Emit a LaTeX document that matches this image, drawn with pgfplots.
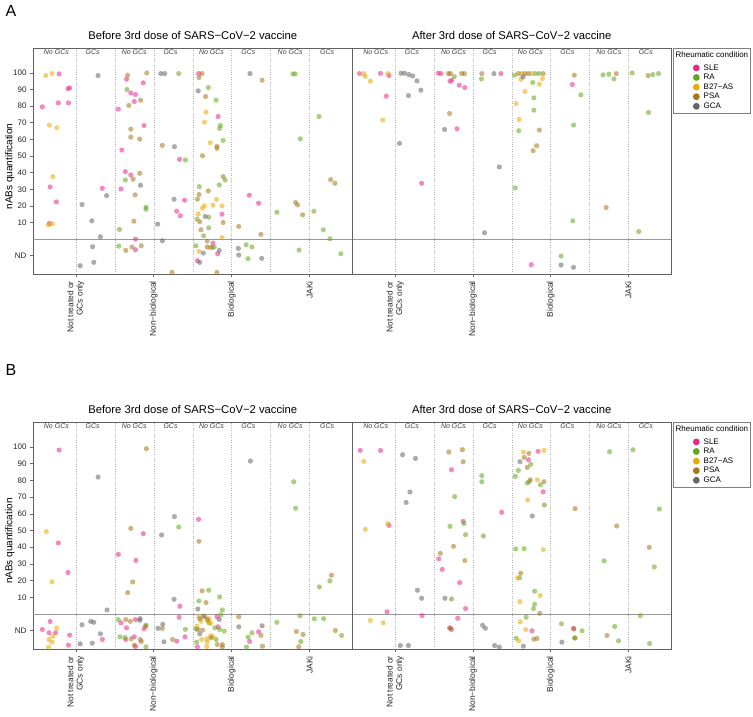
\documentclass[border=0pt]{standalone}
\usepackage{fontspec}
\setmainfont{Liberation Sans}
\usepackage{pgfplots}
\pgfplotsset{compat=1.18}
\definecolor{cSLE}{HTML}{E7298A}
\definecolor{cRA}{HTML}{66A61E}
\definecolor{cB27}{HTML}{E6AB02}
\definecolor{cPSA}{HTML}{A6761D}
\definecolor{cGCA}{HTML}{666666}
\tikzset{strip/.style={font=\fontsize{7}{8}\selectfont\itshape, text=black!75, anchor=center}}
\pgfplotsset{
  pts/.style={only marks, mark=*, mark size=2.6pt, color=#1, draw opacity=0,
    mark options={draw=none, draw opacity=0, line width=0pt, fill=#1, fill opacity=0.55}},
  lgd/.style={legend image code/.code={\path[draw=none] (0pt,0pt) -- (24pt,0pt); \fill[#1, draw=none] (21pt,0pt) circle[radius=3.4pt];}},
  facet/.style={
    scale only axis, anchor=north west,
    xmin=-0.1, xmax=8.1, ymin=-21, ymax=115,
    axis line style={draw=black!62, line width=0.9pt},
    xtick={1,3,5,7},
    xticklabels={{Not treated or\\GCs only},Non−biological,Biological,JAKi},
    xticklabel style={rotate=90, anchor=east, align=right, font=\fontsize{8.4}{9.4}\selectfont, text=black!85, inner sep=4pt},
    yticklabel style={font=\fontsize{8}{9}\selectfont, text=black!85},
    minor xtick={2,4,6},
    xmajorgrids, xminorgrids,
    major grid style={dotted, black!30, line width=0.5pt},
    minor grid style={dotted, black!30, line width=0.5pt},
    minor tick length=0pt,
    tick align=outside, major tick length=3pt,
    xtick pos=left, ytick pos=left,
    tick style={black!60, line width=0.6pt},
    title style={font=\fontsize{11.25}{13}\selectfont, anchor=base, at={(0.5,1)}, yshift=3pt},
  },
  leftfacet/.style={facet, width=319.5pt,
    ytick={-10,10,20,30,40,50,60,70,80,90,100},
    yticklabels={ND,10,20,30,40,50,60,70,80,90,100},
    ylabel={nABs quantification},
    ylabel style={font=\fontsize{8}{9}\selectfont},
    every axis y label/.style={at={(axis description cs:-0.073,0.475)}, rotate=90, anchor=center},
    title={Before 3rd dose of SARS−CoV−2 vaccine}},
  rightfacet/.style={facet, width=318.5pt, ytick=\empty,
    title={After 3rd dose of SARS−CoV−2 vaccine},
    legend style={at={(1.006,1)}, anchor=north west, draw=black!50, line width=0.8pt,
      font=\fontsize{8}{9.6}\selectfont, inner xsep=2pt, inner ysep=2pt, row sep=0pt,
      nodes={text height=6pt, text depth=1.6pt, inner ysep=1pt, inner xsep=0pt},
      /tikz/every odd column/.append style={column sep=4pt}},
    legend cell align=left},
}
\newcommand{\facetdeco}{%
  \draw[black!40, line width=0.6pt] (axis cs:-0.1,0) -- (axis cs:8.1,0);
  \node[strip] at (axis cs:0.5,112.4) {No GCs};
  \node[strip] at (axis cs:1.43,112.4) {GCs};
  \node[strip] at (axis cs:2.5,112.4) {No GCs};
  \node[strip] at (axis cs:3.43,112.4) {GCs};
  \node[strip] at (axis cs:4.48,112.4) {No GCs};
  \node[strip] at (axis cs:5.43,112.4) {GCs};
  \node[strip] at (axis cs:6.5,112.4) {No GCs};
  \node[strip] at (axis cs:7.45,112.4) {GCs};
}
\newcommand{\legendbits}{%
  \addlegendimage{empty legend}
  \addlegendentry[text depth=4.7pt]{\hspace*{-28pt}Rheumatic condition}
  \addlegendimage{lgd=cSLE}\addlegendentry{SLE}
  \addlegendimage{lgd=cRA}\addlegendentry{RA}
  \addlegendimage{lgd=cB27}\addlegendentry{B27−AS}
  \addlegendimage{lgd=cPSA}\addlegendentry{PSA}
  \addlegendimage{lgd=cGCA}\addlegendentry{GCA}
}
\begin{document}
\begin{tikzpicture}
\useasboundingbox (0,0) rectangle (753pt,-717pt);
\node[anchor=base west, font=\fontsize{16}{16}\selectfont] at (2pt,-17pt) {A};
\node[anchor=base west, font=\fontsize{16}{16}\selectfont] at (2pt,-375.5pt) {B};

% ---------------- Panel A, before ----------------
\begin{axis}[leftfacet, at={(33pt,-48pt)}, height=226pt]
\facetdeco
\addplot[pts=cSLE, forget plot] coordinates {
(0.57,99.4) (0.80,90.5) (0.84,91) (0.14,79.6) (0.55,82) (0.81,82) (0.34,31.4) (0.50,22.4) (0.32,9.4)
(1.68,30.6)
(2.30,96.2) (2.73,94) (2.41,88) (2.53,87) (2.50,82.8) (2.09,78.2) (2.75,68.4) (2.18,53.6) (2.27,40.6) (2.41,38.6) (2.16,30.2) (2.53,0) (2.53,-6.4)
(3.66,48) (3.79,23.4) (3.59,16.8) (3.68,14)
(4.15,99.6) (4.65,73.8) (4.75,15) (4.52,-2.4) (4.64,-8.8) (4.12,-13)
(5.45,26.4) (5.69,21.6)
};
\addplot[pts=cRA, forget plot] coordinates {
(2.31,90) (2.27,35.6) (2.80,19.2) (2.80,18) (2.12,5.8) (2.10,-4.2)
(3.64,99.6) (3.81,47.6)
(4.40,91.2) (4.60,83.6) (4.71,68.4) (4.69,66.6) (4.78,59.4) (4.83,35.6) (4.68,32.6) (4.17,31.6) (4.41,13.2) (4.11,12) (4.41,6.8) (4.28,2) (4.08,-4) (4.55,-4.8)
(5.37,-3.4) (5.52,-4.8) (5.42,-11.8)
(6.57,99.4) (6.63,99.4) (6.76,60.3) (6.16,16.2) (6.73,-6.6)
(7.24,73.8) (7.11,16.8) (7.35,5.6) (7.52,0.2) (7.80,-8.8)
};
\addplot[pts=cB27, forget plot] coordinates {
(0.23,98.4) (0.39,99.6) (0.32,68.6) (0.51,67) (0.41,37.6) (0.30,8.6) (0.40,9.2)
(4.34,76.4) (4.30,70.4) (4.45,58) (4.61,24) (4.30,20) (4.25,18.6) (4.52,20.4) (4.75,20) (4.14,15) (4.75,1) (4.44,-5) (4.16,-7.4)
};
\addplot[pts=cPSA, forget plot] coordinates {
(2.33,98.6) (2.82,100) (2.66,83.6) (2.36,80.4) (2.41,66.2) (2.41,61.4) (2.64,60.2) (2.64,39.6) (2.47,36) (2.52,26.6) (2.49,10.8) (2.28,-6.8) (2.44,-4.8) (2.68,-4)
(3.22,56.4) (3.47,-20)
(4.24,99.6) (4.16,97.2) (4.33,85.8) (4.62,55.8) (4.62,54.6) (4.25,50.2) (4.78,37.6) (4.40,29) (4.16,26.8) (4.12,24) (4.18,10.4) (4.78,10) (4.21,5.6) (4.37,-1.2) (4.37,-4.8) (4.49,-5) (4.62,-20)
(5.78,95.6) (5.18,7.6) (5.75,2.8)
(6.64,22) (6.69,20.6) (6.82,14.6)
(7.54,35.8) (7.65,33.6)
};
\addplot[pts=cGCA, forget plot] coordinates {
(1.57,98.4) (1.79,26.2) (1.16,20.8) (1.41,11) (1.63,1.4) (1.43,-4.6) (1.11,-16) (1.46,-14)
(2.66,32.4)
(3.18,99.6) (3.28,99.6) (3.53,55.6) (3.52,24) (3.10,9) (3.22,-1)
(4.14,89.2) (4.32,13.6) (4.68,-6.8) (4.27,-8.4) (4.18,-14)
(5.47,99.6) (5.17,-5.6) (5.18,-9.6) (5.77,-11.6)
};
\end{axis}

% ---------------- Panel A, after ----------------
\begin{axis}[rightfacet, at={(352.5pt,-48pt)}, height=226pt]
\legendbits
\facetdeco
\addplot[pts=cSLE, forget plot] coordinates {
(0.08,99.6) (0.62,99.7) (0.84,98.4) (0.77,86)
(1.68,33.6)
(2.11,99.8) (2.18,99.6) (2.46,95.6) (2.41,95) (2.65,92.6) (2.79,91.2) (2.59,66.4)
(3.72,99.6)
(4.50,-15.4)
(5.56,93)
};
\addplot[pts=cRA, forget plot] coordinates {
(2.52,97.8)
(3.22,96.4)
(4.07,98.6) (4.60,99.6) (4.70,99.6) (4.54,94.2) (4.57,85) (4.57,77.6) (4.18,65.2) (4.09,30.8)
(5.78,86.8) (5.59,68.6) (5.57,11) (5.27,-10.2)
(6.35,98.8) (6.50,99.2) (6.63,96.4)
(7.10,100) (7.63,99) (7.78,99.6) (7.52,76.2) (7.27,4.6)
};
\addplot[pts=cB27, forget plot] coordinates {
(0.19,99.6) (0.23,98) (0.36,95) (0.81,99.6) (0.68,71.6)
(4.26,99.6) (4.51,99.6) (4.24,96.2) (4.79,96.6) (4.71,93.2) (4.34,88.8) (4.11,81.6) (4.19,72)
};
\addplot[pts=cPSA, forget plot] coordinates {
(2.37,99.6) (2.42,99.6) (2.71,99.6) (2.78,99.6) (2.40,75.6)
(3.23,99.6)
(4.17,99.6) (4.34,99.6) (4.43,99.6) (4.81,99.6) (4.71,65.6) (4.64,56.2) (4.55,53.2)
(5.61,98.6)
(6.69,99.6) (6.43,19)
(7.51,98.4)
};
\addplot[pts=cGCA, forget plot] coordinates {
(1.15,99.8) (1.24,99.8) (1.35,99) (1.45,98.2) (1.56,95.2) (1.66,89.6) (1.34,86.4) (1.11,57.6)
(2.27,66)
(3.54,99.6) (3.68,43.4) (3.30,3.8)
(4.29,97.6)
(5.27,-15.6) (5.59,-17)
};
\end{axis}

% ---------------- Panel B, before ----------------
\begin{axis}[leftfacet, at={(33pt,-422pt)}, height=227pt]
\facetdeco
\addplot[pts=cSLE, forget plot] coordinates {
(0.57,98.2) (0.55,42.5) (0.80,24.8) (0.34,-4.5) (0.14,-9.3) (0.31,-11.3) (0.48,-11.3) (0.84,-12.7) (0.81,-18.7)
(1.68,-15.3)
(2.73,48.1) (2.09,35.7) (2.54,32.1) (2.16,-5.3) (2.53,-3.4) (2.30,-8.3) (2.75,-8.9) (2.28,-15.3) (2.50,-13.7) (2.53,-19.5)
(3.67,4.6) (3.65,-2) (3.80,-13.7) (3.59,-16.3)
(4.15,56.7) (4.62,-1.7) (4.65,-7.7) (4.12,-19.7)
(5.69,-10.7) (5.46,-16.5)
};
\addplot[pts=cRA, forget plot] coordinates {
(2.09,-3.4) (2.80,-6.7) (2.13,-13.7) (2.26,-14.1) (2.80,-19.7)
(3.64,52.1) (3.81,-9.2)
(4.41,14.2) (4.16,7.8) (4.69,10.2) (4.76,2.4) (4.72,-0.5) (4.42,-5.3) (4.57,-8.3) (4.08,-8.9) (4.81,-10.3) (4.69,-9.3) (4.60,-15.3) (4.10,-16.9)
(5.52,-11.3) (5.42,-13.9) (5.38,-19.9)
(6.59,79.2) (6.64,63.3) (6.16,-5) (6.75,-1.1) (6.77,-16.5)
(7.25,16.2) (7.52,19.8) (7.12,-2.9) (7.36,-2.8) (7.82,-12.9)
};
\addplot[pts=cB27, forget plot] coordinates {
(0.24,49.3) (0.39,19.2) (0.51,-8.5) (0.31,-15.3) (0.41,-13.3) (0.39,-16.9) (0.30,-19.9)
(4.16,-1.7) (4.32,-1.7) (4.42,-2.9) (4.21,-4.4) (4.40,-4.4) (4.46,-5.7) (4.11,-7.3) (4.46,-12.9) (4.52,-13.7) (4.23,-15.3) (4.36,-14.9) (4.37,-16.7) (4.36,-19.5)
};
\addplot[pts=cPSA, forget plot] coordinates {
(2.81,99) (2.41,51.3) (2.46,19.2) (2.33,12.8) (2.28,-3.4) (2.40,-4.4) (2.79,-7.4) (2.42,-14.9) (2.65,-15.3) (2.68,-16.5) (2.50,-18.7)
(3.22,-8.7) (3.48,-15.3)
(4.16,43.5) (4.24,13.8) (4.34,6.8) (4.18,-2.9) (4.37,-3.3) (4.13,-9.3) (4.25,-9.7) (4.47,-14.3) (4.63,-18.3) (4.76,-18.3) (4.76,-19.7)
(5.18,-1.7) (5.75,-12.9) (5.79,-19.3)
(6.66,-10.5) (6.83,-12.3) (6.72,-19.7)
(7.56,23.2) (7.66,-9.9)
};
\addplot[pts=cGCA, forget plot] coordinates {
(1.57,82) (1.80,2.4) (1.38,-4.5) (1.46,-5) (1.16,-6.5) (1.63,-11.9) (1.11,-17.9) (1.42,-17.5)
(2.65,-2.8) (2.64,-3.8)
(3.53,58.3) (3.20,47.3) (3.52,8.8) (3.11,-8.6) (3.23,-6.2) (3.26,-16.7)
(4.13,3) (4.28,-1.4) (4.68,-3.3) (4.18,-11.9)
(5.48,91.6) (5.18,-7.7) (5.78,-7.1)
};
\end{axis}

% ---------------- Panel B, after ----------------
\begin{axis}[rightfacet, at={(352.5pt,-422pt)}, height=227pt]
\legendbits
\facetdeco
\addplot[pts=cSLE, forget plot] coordinates {
(0.10,98) (0.62,97.9) (0.84,53.1) (0.79,1.3)
(1.69,-1)
(2.45,86.4) (2.75,55.5) (2.12,33) (2.21,26.7) (2.66,18.8) (2.81,3.2) (2.61,-2.6) (2.40,-8.3) (2.45,-9.3)
(3.74,60.9)
(4.68,97.4) (4.43,92.4) (4.81,73.2) (4.52,-10.1)
(5.59,-8.7)
};
\addplot[pts=cRA, forget plot] coordinates {
(2.53,70.3) (2.77,54.1) (2.41,52.5) (2.81,47.5)
(3.23,82.8) (3.23,79.2)
(4.49,89.6) (4.17,86) (4.09,82.4) (4.40,78.5) (4.45,79.2) (4.74,77.4) (4.10,39) (4.32,39.1) (4.20,21.6) (4.59,13.6) (4.59,5.8) (4.56,3.2) (4.37,-2) (4.11,-14.5)
(5.28,-5.9) (5.81,-10.1) (5.62,-14.3)
(6.52,97.2) (6.38,31.8) (6.65,-7.5) (6.75,-16.1)
(7.12,98.4) (7.80,62.9) (7.67,28.2) (7.31,-1) (7.55,-17.7)
};
\addplot[pts=cB27, forget plot] coordinates {
(0.19,91.4) (0.23,50.7) (0.81,54.1) (0.36,-3.9) (0.69,-5.3)
(4.30,97) (4.83,98) (4.66,80.3) (4.41,68.3) (4.81,38.5) (4.15,21.6) (4.73,11) (4.21,7.4) (4.22,-4.7) (4.36,-9.3) (4.18,-16.1)
};
\addplot[pts=cPSA, forget plot] coordinates {
(2.38,97) (2.73,98.4) (2.75,91.2) (2.50,40.5) (2.16,36.3) (2.79,32) (2.45,9) (2.42,-8.6)
(3.27,46.7)
(4.44,96.2) (4.32,93.8) (4.40,87.8) (4.48,80.4) (4.83,79.2) (4.84,65.3) (4.23,24.4) (4.72,0.4) (4.57,-15.1) (4.65,-14.7)
(5.63,63.1) (5.60,-8.9) (5.63,-14.5)
(6.70,52.7) (6.45,-12.9)
(7.54,39.9)
};
\addplot[pts=cGCA, forget plot] coordinates {
(1.19,95.4) (1.52,93.2) (1.38,73.1) (1.28,66.8) (1.57,14.2) (1.68,9.4) (1.13,-18.9) (1.34,-18.9)
(2.28,9.4)
(3.25,-6.8) (3.32,-8.6) (3.56,-18.9) (3.68,-19.9)
(4.21,91.2) (4.53,58.7) (4.30,-19.3)
(5.29,-16.9)
};
\end{axis}
\end{tikzpicture}
\end{document}
